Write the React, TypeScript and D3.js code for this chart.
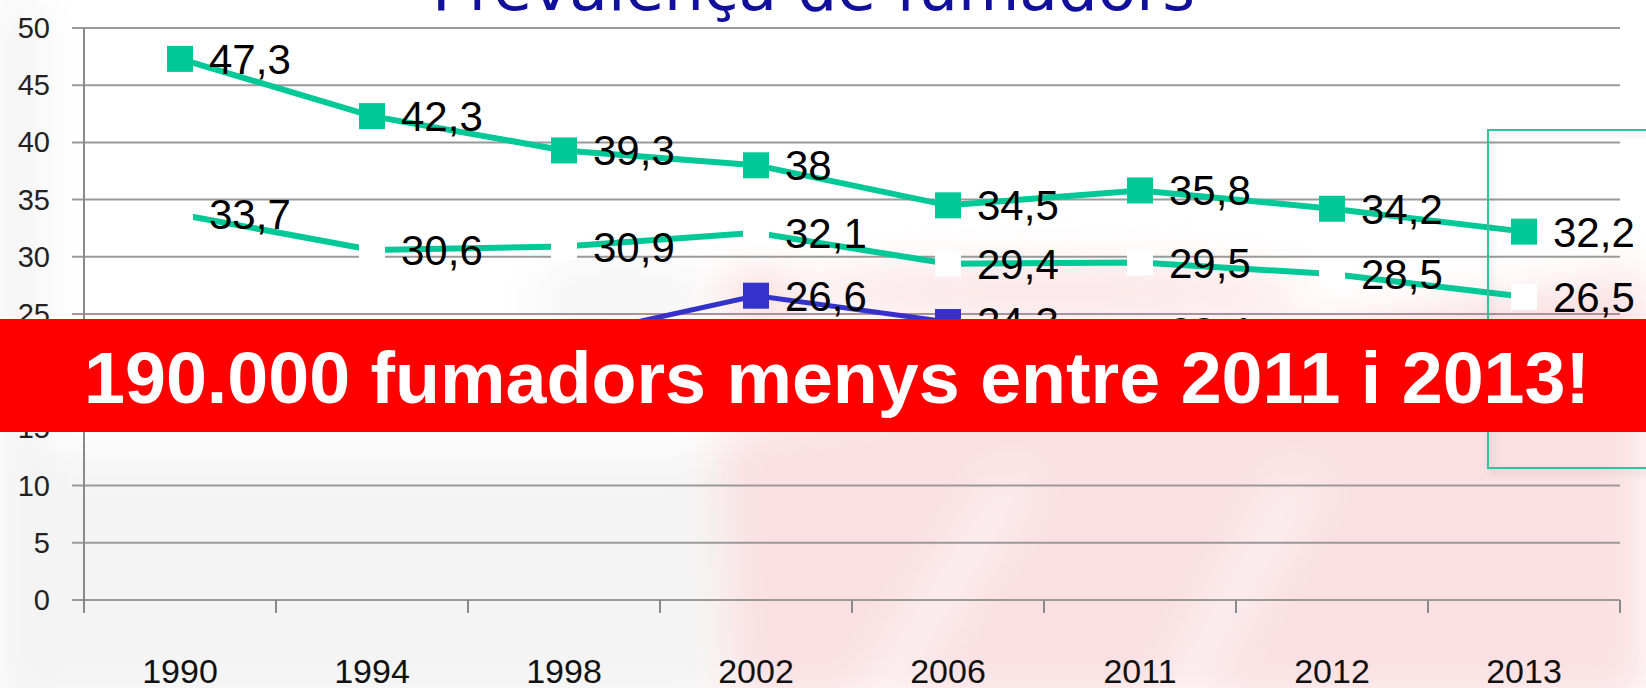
import React, { useEffect, useRef } from 'react';
import * as d3 from 'd3';

// years on the x axis
const years = ['1990', '1994', '1998', '2002', '2006', '2011', '2012', '2013'];
// homes (green squares)
const homes = [47.3, 42.3, 39.3, 38, 34.5, 35.8, 34.2, 32.2];
// total (white squares, green line)
const total = [33.7, 30.6, 30.9, 32.1, 29.4, 29.5, 28.5, 26.5];
// dones (blue squares), mostly hidden by the banner
const dones = [21.0, 19.7, 22.9, 26.6, 24.3, 23.4, 23.0, 21.0];
const yTicks = [0, 5, 10, 15, 20, 25, 30, 35, 40, 45, 50];

const W = 1646;
const H = 688;

const App = () => {
  const svgRef = useRef<SVGSVGElement | null>(null);

  useEffect(() => {
    const svg = d3.select(svgRef.current);
    svg.selectAll('*').remove();

    const left = 84, right = 1620, top = 28, bottom = 600;
    const x = d3.scaleBand().domain(years).range([left, right]);
    const y = d3.scaleLinear().domain([0, 50]).range([bottom, top]);
    const cx = (i: number) => (x(years[i]) as number) + x.bandwidth() / 2;

    const defs = svg.append('defs');
    defs.append('filter').attr('id', 'blur').attr('x', '-20%').attr('y', '-20%')
      .attr('width', '140%').attr('height', '140%')
      .append('feGaussianBlur').attr('stdDeviation', 22);
    const sh = defs.append('filter').attr('id', 'shadow').attr('x', '-5%').attr('y', '-5%')
      .attr('width', '115%').attr('height', '115%');
    sh.append('feDropShadow').attr('dx', 3).attr('dy', 4).attr('stdDeviation', 3)
      .attr('flood-color', '#000').attr('flood-opacity', 0.15);

    // background
    svg.append('rect').attr('width', W).attr('height', H).attr('fill', '#ffffff');
    const bg = svg.append('g').attr('filter', 'url(#blur)');
    bg.append('rect').attr('x', 0).attr('y', 450).attr('width', 720).attr('height', 260)
      .attr('fill', '#f4f4f4');
    bg.append('rect').attr('x', 0).attr('y', 0).attr('width', 40).attr('height', 688)
      .attr('fill', '#f2f2f2');
    bg.append('ellipse').attr('cx', 620).attr('cy', 300).attr('rx', 90).attr('ry', 40)
      .attr('fill', '#f5f5f5');
    bg.append('path').attr('d', 'M720,430 L1646,270 L1646,700 L730,700 Z')
      .attr('fill', '#fae0e2');
    bg.append('ellipse').attr('cx', 1050).attr('cy', 292).attr('rx', 260).attr('ry', 28)
      .attr('fill', '#fbe4e6');
    bg.append('ellipse').attr('cx', 760).attr('cy', 300).attr('rx', 40).attr('ry', 30)
      .attr('fill', '#fadcde');
    bg.append('path').attr('d', 'M850,700 L1000,470 L1040,480 L900,700 Z').attr('fill', '#ffffff').attr('opacity', 0.5);
    bg.append('path').attr('d', 'M1150,700 L1280,470 L1330,480 L1200,700 Z').attr('fill', '#ffffff').attr('opacity', 0.45);

    // gridlines
    svg.append('g').selectAll('line').data(yTicks).enter().append('line')
      .attr('x1', left - 12).attr('x2', right)
      .attr('y1', d => y(d)).attr('y2', d => y(d))
      .attr('stroke', '#9a9a9a').attr('stroke-width', 2);

    // axes
    svg.append('line').attr('x1', left).attr('x2', left).attr('y1', top).attr('y2', bottom)
      .attr('stroke', '#8a8a8a').attr('stroke-width', 2);
    const bounds = years.map(d => x(d) as number).concat([right]);
    svg.append('g').selectAll('line').data(bounds).enter().append('line')
      .attr('x1', d => d).attr('x2', d => d).attr('y1', bottom).attr('y2', bottom + 13)
      .attr('stroke', '#8a8a8a').attr('stroke-width', 2);

    svg.append('g').selectAll('text').data(yTicks).enter().append('text')
      .attr('x', 50).attr('y', d => y(d) + 10)
      .attr('text-anchor', 'end')
      .attr('font-family', 'Liberation Sans, Arial, sans-serif')
      .attr('font-size', 29).attr('fill', '#222')
      .text(d => d);

    svg.append('g').selectAll('text').data(years).enter().append('text')
      .attr('x', (d, i) => cx(i)).attr('y', 683)
      .attr('text-anchor', 'middle')
      .attr('font-family', 'Liberation Sans, Arial, sans-serif')
      .attr('font-size', 34).attr('fill', '#111')
      .text(d => d);

    // title (cut off at the top)
    svg.append('text').attr('x', 432).attr('y', 10)
      .attr('textLength', 763).attr('lengthAdjust', 'spacingAndGlyphs')
      .attr('font-family', 'DejaVu Sans, Liberation Sans, sans-serif')
      .attr('font-size', 62).attr('fill', '#10109c')
      .text('Prevalença de fumadors');

    const line = d3.line<number>().x((d, i) => cx(i)).y(d => y(d));
    const series = [
      { values: dones, stroke: '#3333cc', fill: '#3333cc', width: 5 },
      { values: total, stroke: '#00c896', fill: '#ffffff', width: 6 },
      { values: homes, stroke: '#00c896', fill: '#00c896', width: 6 },
    ];
    const ms = 26;
    series.forEach(s => {
      svg.append('path').datum(s.values).attr('d', line)
        .attr('fill', 'none').attr('stroke', s.stroke).attr('stroke-width', s.width);
      svg.append('g').selectAll('rect').data(s.values).enter().append('rect')
        .attr('x', (d, i) => cx(i) - ms / 2).attr('y', d => y(d) - ms / 2)
        .attr('width', ms).attr('height', ms).attr('fill', s.fill);
      svg.append('g').selectAll('text').data(s.values).enter().append('text')
        .attr('x', (d, i) => cx(i) + 29).attr('y', d => y(d) + 15)
        .attr('font-family', 'Liberation Sans, Arial, sans-serif')
        .attr('font-size', 42).attr('fill', '#000')
        .text(d => d3.format('.1~f')(d).replace('.', ','));
    });

    // highlight box around 2013
    svg.append('rect').attr('x', 1488).attr('y', 130).attr('width', 200).attr('height', 338)
      .attr('fill', 'none').attr('stroke', '#2cc79e').attr('stroke-width', 2)
      .attr('filter', 'url(#shadow)');

    // banner
    svg.append('rect').attr('x', 0).attr('y', 319).attr('width', W).attr('height', 113)
      .attr('fill', '#ff0000');
    svg.append('text').attr('x', 84).attr('y', 403)
      .attr('textLength', 1506).attr('lengthAdjust', 'spacingAndGlyphs')
      .attr('font-family', 'Liberation Sans, Arial, sans-serif')
      .attr('font-weight', 'bold').attr('font-size', 73).attr('fill', '#ffffff')
      .text('190.000 fumadors menys entre 2011 i 2013!');
  }, []);

  return (
    <svg ref={svgRef} width={W} height={H}
      style={{ position: 'absolute', left: 0, top: 0, display: 'block' }} />
  );
};

export default App;
